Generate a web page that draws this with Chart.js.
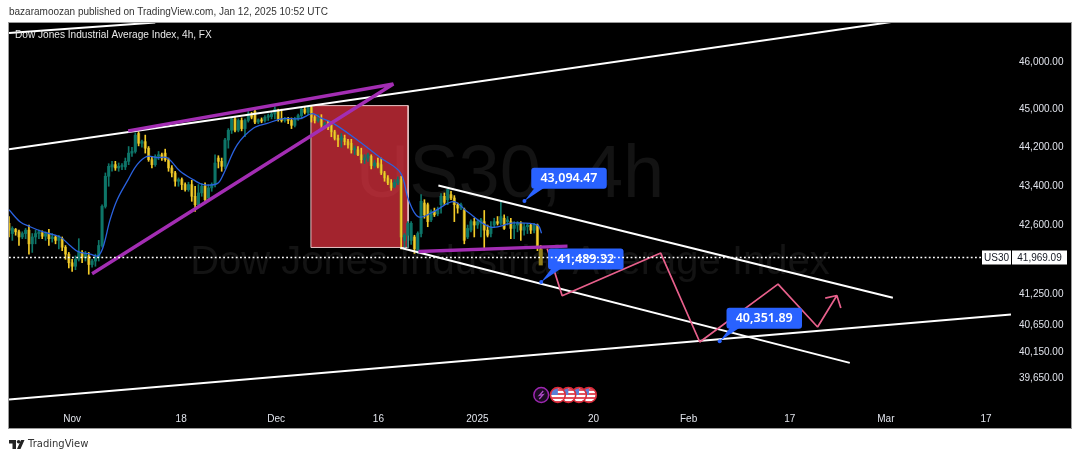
<!DOCTYPE html>
<html>
<head>
<meta charset="utf-8">
<title>US30, 4h</title>
<script src="https://cdn.jsdelivr.net/npm/chart.js@4/dist/chart.umd.js"></script>
<style>
    html, body { margin: 0; background: #fff; width: 1080px; height: 459px; overflow: hidden; }
    #c { position: absolute; left: 0; top: 0; }
    .note { position: absolute; color: #333; white-space: nowrap; }
    #published { left: 9px; top: 5px; font: 10px/14px "Liberation Sans", sans-serif; }
    #brand { left: 28px; top: 437px; font: 10px/14px "DejaVu Sans", sans-serif; }
    #logo { position: absolute; left: 9px; top: 440px; }
</style>
</head>
<body>
<canvas id="c" width="1080" height="459"></canvas>
<div class="note" id="published">bazaramoozan published on TradingView.com, Jan 12, 2025 10:52 UTC</div>
<svg id="logo" width="16" height="9" viewBox="0 0 16 9"><path fill="#222" d="M0 0h7v9H3.5V3.5H0zM8 9l4-9h3.5l-4 9z"/><circle fill="#222" cx="9.6" cy="1.8" r="1.8"/></svg>
<div class="note" id="brand">TradingView</div>
<script>
// every 4h candle pair, bar index = position * 2
const opens = [42647,42443,42525,42477,42375,42443,42511,42239,42375,42443,
    42457,42389,42430,42341,42375,42307,42341,42171,42035,41865,
    41797,41933,42069,41967,42001,41831,41899,41967,42205,42987,
    43599,43790,43837,43769,43803,43790,43905,44075,44109,44483,
    44279,44313,44177,43939,43837,44007,44041,44075,43939,43769,
    43667,43497,43531,43429,43327,43429,43191,43021,43259,43395,
    43157,43361,43429,43973,43905,43803,44347,44551,44789,44551,
    44755,44585,44755,44891,44945,44721,44769,44755,44823,44837,
    44891,44959,44789,44755,44789,44755,44653,44789,44857,44993,
    44925,45027,44823,44755,44789,44653,44687,44653,44517,44381,
    44347,44381,44313,44279,44143,44143,44041,43939,43973,44007,
    43817,43871,43837,43667,43565,43463,43395,43463,43531,42307,
    42409,42307,42375,42103,42443,43055,43021,42715,42885,42837,
    43021,43191,43123,43225,43157,43021,42953,42919,42375,42511,
    42681,42613,42647,42681,42511,42443,42613,42681,42647,42749,
    42681,42681,42545,42613,42647,42511,42579,42613,42511,42613,
    42137]
const closes = [42511,42545,42477,42375,42443,42511,42239,42375,42443,42477,
    42389,42443,42341,42375,42307,42375,42171,42035,41865,41797,
    41933,42069,41967,42035,41831,41899,41967,42205,42987,43599,
    43803,43837,43769,43803,43817,43905,44075,44109,44449,44279,
    44313,44177,43939,43837,44007,44041,43973,43939,43769,43667,
    43497,43531,43429,43327,43429,43191,43021,43259,43395,43123,
    43361,43429,43871,43905,43803,44347,44551,44789,44551,44755,
    44585,44755,44891,44823,44721,44769,44741,44823,44857,44891,
    44993,44789,44755,44789,44755,44653,44789,44857,44993,44925,
    45027,44823,44755,44789,44653,44687,44605,44517,44381,44347,
    44415,44313,44245,44143,44177,44041,43939,43973,44041,43817,
    43871,43803,43667,43565,43463,43361,43477,43531,42375,42409,
    42647,42647,42137,42443,43089,42817,42681,42885,42817,42919,
    43191,43069,43327,43157,43021,42953,43021,42307,42545,42681,
    42613,42681,42715,42511,42409,42579,42681,42647,42783,42545,
    42715,42545,42613,42647,42511,42579,42613,42511,42613,42171,
    41820]
const highs = [42783,42579,42545,42511,42477,42545,42613,42443,42511,42511,
    42497,42477,42525,42443,42409,42409,42375,42205,42069,41933,
    42001,42341,42103,42090,42069,41933,42035,42307,43021,43667,
    43857,43905,43905,43871,43857,43973,44211,44197,44497,44517,
    44347,44449,44211,44007,44041,44109,44075,44157,43973,43817,
    43701,43565,43565,43463,43477,43517,43395,43429,43450,43463,
    43429,43463,44041,44021,43973,44381,44585,44823,44823,44789,
    44809,44789,44945,44925,44993,44789,44809,44857,44891,44925,
    45041,44993,44993,44823,44823,44809,44823,44891,45027,45041,
    45055,45055,44857,44877,44877,44721,44741,44721,44551,44449,
    44483,44449,44361,44361,44225,44211,44177,44041,44075,44041,
    43925,43973,43973,43701,43613,43531,43531,43585,43599,42443,
    42681,42681,42409,42477,43225,43123,43055,42919,42953,42973,
    43245,43259,43341,43293,43205,43055,43055,42953,42613,42715,
    42749,42729,42749,42905,42613,42681,42749,42783,43075,42817,
    42783,42749,42681,42681,42681,42647,42647,42647,42647,42633,
    42205]
const lows = [42375,42307,42409,42205,42341,42341,42035,42069,42239,42341,
    42341,42307,42205,42273,42239,42137,42103,41933,41763,41695,
    41729,41899,41865,41899,41640,41777,41797,41899,42171,42953,
    43395,43701,43720,43701,43735,43735,43837,44007,44075,44225,
    44197,44075,43905,43769,43803,43939,43925,43905,43701,43585,
    43395,43395,43327,43293,43293,43089,42885,42987,43191,43069,
    43110,43293,43381,43769,43701,43749,44177,44483,44517,44517,
    44537,44415,44721,44789,44687,44687,44707,44721,44755,44789,
    44789,44741,44721,44721,44687,44585,44619,44755,44789,44891,
    44877,44721,44701,44721,44605,44585,44565,44415,44347,44211,
    44197,44245,44177,44075,44041,44021,43871,43857,43905,43749,
    43769,43769,43633,43497,43429,43313,43361,43429,42137,42171,
    42171,42225,42049,42049,42375,42749,42579,42681,42783,42797,
    42851,43021,43021,43123,42681,42851,42919,42239,42341,42477,
    42375,42545,42375,42117,42375,42375,42565,42613,42613,42525,
    42613,42341,42341,42477,42307,42409,42443,42443,42457,42103,
    41797]

const maBars = [0,6.6,12.7,20.5,30.7,36.7,41.6,48.8,53.6,56.6,60.8,65.1,71.7,77.1,83.1,89.2,95.2,103,110.8,116.9,125.3,128.9,137.3,147,155.4,165,175.3,182.5,187.3,195.2,209.6,223.5,235.5,240.4,246.4,255.4,267.5,275.9,289.8,303.6,318.1,320.5]
const maValues = [42919,42680,42578,42476,42374,42205,42083,42036,42001,42170,42715,43123,43531,43837,44006,43980,43980,43700,43531,43429,43449,43633,44245,44592,44694,44796,44796,44898,44816,44694,44347,43980,43674,43123,42776,42878,43082,42878,42572,42654,42613,42450]

const priceTicks = [46000,45000,44200,43400,42600,41250,40650,40150,39650]
const timeBars = [38,103.6,160.8,222.3,281.9,351.8,409,469.9,527.7,588]
const timeLabels = ['Nov','18','Dec','16','2025','20','Feb','17','Mar','17']
const lastPrice = 41969.09

// drawings on the chart, bar index and price of each end
const risingBars = [0,535], risingPrices = [44156,46892]
const cornerBars = [0,88], cornerPrices = [46629,46860]
const floorBars = [0,603], floorPrices = [39263,40860]
const channelLowBars = [235.5,506], channelLowPrices = [42161,39945]
const channelHighBars = [258.4,531.9], channelHighPrices = [43410,41184]
const wedgeBars = [71.7,231.3,50], wedgePrices = [44536,45528,41649]
const supportBars = [246.4,336.1], supportPrices = [42087,42194]
const zoneBars = [181.7,240.2], zoneTop = [45068,45068], zoneBottom = 42167
const outlineBars = [181.7,240.2,240.2,181.7,181.7], outlinePrices = [45068,45068,42167,42167,45068]
const pathBars = [323.9,332.9,392.2,415.7,462.8,486.6,498.2,491.2,498.2,500.6]
const pathPrices = [42140,41222,42056,40338,41449,40622,41228,41178,41228,40986]

const calloutBars = [310.2,320.3,427.7]
const calloutPrices = [43094.47,41489.32,40351.89]
const eventBars = [349,343,336.6,330.3]
const boltBar = 320.3

const LAST = opens.length - 1
const UP = '#0e7568', WICK_DOWN = '#f4cc28', BODY_DOWN = '#a08c22'

function money(v) {
    return v.toLocaleString('en-US', {minimumFractionDigits: 2, maximumFractionDigits: 2})
}

function lineSet(label, xs, ys, color, width, order, extra) {
    return Object.assign({
        type: 'line',
        label,
        data: xs.map((x, i) => ({x, y: ys[i]})),
        borderColor: color,
        borderWidth: width,
        borderJoinStyle: 'bevel',
        pointRadius: 0,
        fill: false,
        order
    }, extra)
}

const wickData = highs.slice(0, LAST).map((h, i) => ({x: i * 2, y: [lows[i], h]}))
const bodyData = opens.slice(0, LAST).map((o, i) => ({x: i * 2, y: [o, closes[i]]}))
const wickColors = opens.slice(0, LAST).map((o, i) => closes[i] >= o ? UP : WICK_DOWN)
const bodyColors = opens.slice(0, LAST).map((o, i) => closes[i] >= o ? UP : BODY_DOWN)

const panelPlugin = {
    id: 'panel',
    beforeDraw(chart) {
        const ctx = chart.ctx
        ctx.save()
        ctx.fillStyle = '#000'
        ctx.fillRect(8.5, 22.5, 1063, 406)
        ctx.strokeStyle = '#9a9a9a'
        ctx.lineWidth = 1
        ctx.strokeRect(8.5, 22.5, 1063, 406)
        ctx.restore()
    },
    beforeDatasetsDraw(chart) {
        const ctx = chart.ctx
        ctx.save()
        ctx.fillStyle = '#131313'
        ctx.textAlign = 'center'
        ctx.textBaseline = 'alphabetic'
        ctx.font = '74px "Liberation Sans"'
        ctx.fillText('US30, 4h', 510, 197)
        ctx.font = '40px "Liberation Sans"'
        ctx.fillText('Dow Jones Industrial Average Index', 510, 274)
        ctx.restore()
    },
    afterDatasetsDraw(chart) {
        const ctx = chart.ctx
        const xs = chart.scales.x, ys = chart.scales.y
        ctx.save()
        calloutPrices.forEach((p, i) => drawCallout(ctx, xs.getPixelForValue(calloutBars[i]), ys.getPixelForValue(p), p))
        const lastY = Math.round(ys.getPixelForValue(lastPrice)) + 0.5

        ctx.strokeStyle = '#fff'
        ctx.lineWidth = 1.6
        ctx.setLineDash([1.8, 2.4])
        ctx.beginPath()
        ctx.moveTo(9, lastY)
        ctx.lineTo(981, lastY)
        ctx.stroke()
        ctx.setLineDash([])

        drawEvents(ctx, xs, 395)

        // last price tags
        ctx.fillStyle = '#fff'
        ctx.fillRect(982, lastY - 7, 29, 14)
        ctx.fillRect(1012, lastY - 7, 55, 14)
        ctx.fillStyle = '#131722'
        ctx.font = '10px "Liberation Sans"'
        ctx.textBaseline = 'middle'
        ctx.textAlign = 'center'
        ctx.fillText('US30', 996.5, lastY + 0.5)
        ctx.fillText(money(lastPrice), 1039.5, lastY + 0.5)

        ctx.fillStyle = '#e8e8e8'
        ctx.textAlign = 'left'
        ctx.font = '10.1px "Liberation Sans"'
        ctx.fillText('Dow Jones Industrial Average Index, 4h, FX', 15, 35)
        ctx.restore()
    }
}

function drawCallout(ctx, x, y, price) {
    const left = x + 6.8, top = y - 33.4
    ctx.fillStyle = '#2962ff'
    ctx.beginPath()
    ctx.moveTo(left + 5, top + 18)
    ctx.lineTo(x, y)
    ctx.lineTo(left + 16, top + 18)
    ctx.fill()
    ctx.beginPath()
    ctx.roundRect(left, top, 75.5, 21, 3)
    ctx.fill()
    ctx.beginPath()
    ctx.arc(x, y, 2, 0, Math.PI * 2)
    ctx.fill()
    ctx.fillStyle = '#fff'
    ctx.font = '600 12.5px "Noto Sans"'
    ctx.textAlign = 'center'
    ctx.textBaseline = 'middle'
    ctx.fillText(money(price), left + 37.7, top + 10.5)
}

function drawEvents(ctx, xs, y) {
    eventBars.forEach(b => {
        const x = xs.getPixelForValue(b)
        ctx.save()
        ctx.beginPath()
        ctx.arc(x, y, 7, 0, Math.PI * 2)
        ctx.clip()
        ctx.fillStyle = '#fff'
        ctx.fillRect(x - 7, y - 7, 14, 14)
        ctx.fillStyle = '#e2505c'
        for (let s = -6; s < 7; s += 4) ctx.fillRect(x - 7, y + s, 14, 2)
        ctx.fillStyle = '#5a7fd6'
        ctx.fillRect(x - 7, y - 7, 7, 7)
        ctx.restore()
        ctx.strokeStyle = '#d92b3a'
        ctx.lineWidth = 1.6
        ctx.beginPath()
        ctx.arc(x, y, 7.4, 0, Math.PI * 2)
        ctx.stroke()
    })
    const bx = xs.getPixelForValue(boltBar)
    ctx.fillStyle = '#1a0a20'
    ctx.strokeStyle = '#9c27b0'
    ctx.lineWidth = 1.5
    ctx.beginPath()
    ctx.arc(bx, y, 7.4, 0, Math.PI * 2)
    ctx.fill()
    ctx.stroke()
    ctx.strokeStyle = '#b04cc8'
    ctx.lineWidth = 1.2
    ctx.beginPath()
    ctx.moveTo(bx + 2, y - 4)
    ctx.lineTo(bx - 2, y + 0.5)
    ctx.lineTo(bx + 2, y - 0.5)
    ctx.lineTo(bx - 2, y + 4)
    ctx.stroke()
}

new Chart(document.getElementById('c'), {
    type: 'bar',
    plugins: [panelPlugin],
    data: {
        datasets: [
            lineSet('zone', zoneBars, zoneTop, 'rgba(0,0,0,0)', 0, 11, {fill: {value: zoneBottom}, backgroundColor: 'rgba(250,55,70,0.65)'}),
            lineSet('outline', outlineBars, outlinePrices, '#e6c4c6', 1, 10),
            {label: 'bodies', data: bodyData, barThickness: 2.4, backgroundColor: bodyColors, grouped: false, order: 9},
            {label: 'wicks', data: wickData, barThickness: 1, backgroundColor: wickColors, grouped: false, order: 8},
            {label: 'last body', data: [{x: LAST * 2, y: [opens[LAST], closes[LAST]]}], barThickness: 3.4, backgroundColor: '#93801c', grouped: false, order: 7},
            {label: 'last wick', data: [{x: LAST * 2, y: [highs[LAST], opens[LAST]]}], barThickness: 1, backgroundColor: WICK_DOWN, grouped: false, order: 6},
            lineSet('ma', maBars, maValues, '#2a62e0', 1.3, 5, {tension: 0.35}),
            lineSet('rising', risingBars, risingPrices, '#fff', 2, 4),
            lineSet('corner', cornerBars, cornerPrices, '#fff', 2, 4),
            lineSet('floor', floorBars, floorPrices, '#fff', 2, 4),
            lineSet('channel low', channelLowBars, channelLowPrices, '#fff', 2, 4),
            lineSet('channel high', channelHighBars, channelHighPrices, '#fff', 2, 4),
            lineSet('wedge', wedgeBars, wedgePrices, '#a32db3', 3.4, 3),
            lineSet('support', supportBars, supportPrices, '#a32db3', 3.4, 3),
            lineSet('path', pathBars, pathPrices, '#e8608c', 1.7, 2)
        ]
    },
    options: {
        responsive: false,
        animation: false,
        events: [],
        layout: {padding: {left: 9, top: 23, right: 8, bottom: 31}},
        plugins: {legend: {display: false}, tooltip: {enabled: false}, title: {display: false}},
        scales: {
            x: {
                type: 'linear',
                min: 0,
                max: 603,
                offset: false,
                grid: {display: false, offset: false},
                border: {display: false},
                afterBuildTicks: axis => { axis.ticks = timeBars.map(value => ({value})) },
                afterFit: axis => { axis.height = 23 },
                ticks: {
                    autoSkip: false,
                    maxRotation: 0,
                    padding: 0,
                    color: '#e0e3eb',
                    font: {family: 'Liberation Sans', size: 10},
                    callback: value => timeLabels[timeBars.indexOf(value)]
                }
            },
            y: {
                type: 'logarithmic',
                position: 'right',
                min: 39163,
                max: 46849,
                grid: {display: false},
                border: {display: false},
                afterBuildTicks: axis => { axis.ticks = priceTicks.map(value => ({value})) },
                afterFit: axis => { axis.width = 61 },
                ticks: {
                    autoSkip: false,
                    padding: 0,
                    color: '#e0e3eb',
                    font: {family: 'Liberation Sans', size: 10},
                    callback: value => money(value)
                }
            }
        }
    }
})
</script>
</body>
</html>
